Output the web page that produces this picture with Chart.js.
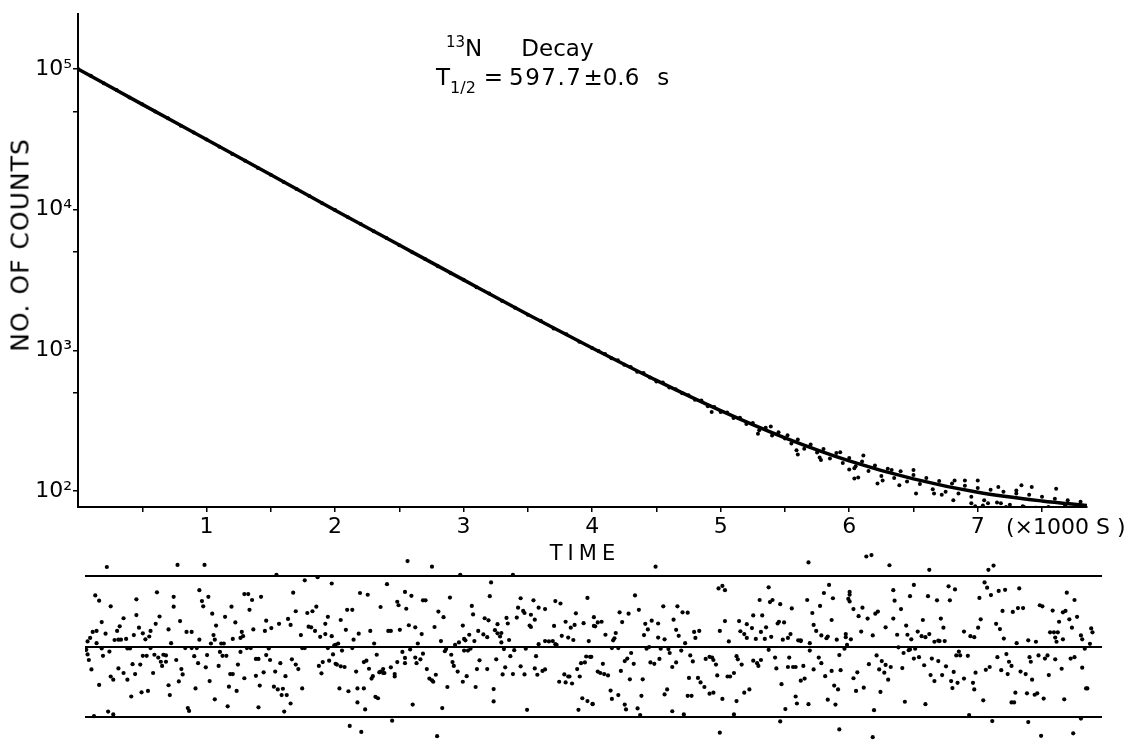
<!DOCTYPE html>
<html lang="en">
<head>
    <meta charset="utf-8"/>
    <title>13N Decay</title>
    <script src="https://cdn.jsdelivr.net/npm/chart.js"></script>
    <style>
        body {
            margin: 0;
            width: 1133px;
            height: 744px;
            position: relative;
            overflow: hidden;
            background: #fff;
            color: #000;
            font-family: 'DejaVu Sans', sans-serif;
        }
        canvas { position: absolute; left: 0; }
        #decay { top: 0; }
        #resid { top: 536px; }
        .txt {
            position: absolute;
            white-space: nowrap;
            line-height: 1;
        }
        #title1 { left: 446px; top: 37px; font-size: 23px; }
        #title1 .iso { font-size: 15px; position: relative; top: -9px; }
        #title2 { left: 436px; top: 66px; font-size: 23px; }
        #title2 .sub { font-size: 16px; position: relative; top: 8px; }
        #title2 .num { letter-spacing: 1.5px; }
        #ytitle {
            left: 20px; top: 245px; font-size: 25px; letter-spacing: 1px;
            transform: translate(-50%, -50%) rotate(-90deg);
        }
        #xunit { left: 1006px; top: 516px; font-size: 22px; }
        #xtitle { left: 585px; top: 553px; font-size: 21px; letter-spacing: 5px; transform: translate(-50%, -50%); }
    </style>
</head>
<body>
    <canvas id="decay" width="1133" height="545"></canvas>
    <canvas id="resid" width="1133" height="208"></canvas>

    <div class="txt" id="title1"><span class="iso">13</span>N<span style="margin-left:39px">Decay</span></div>
    <div class="txt" id="title2">T<span class="sub">1/2</span><span style="margin-left:8px">=</span><span class="num" style="margin-left:6px">597.7</span><span style="margin-left:1px">±0.6</span><span style="margin-left:18px">s</span></div>
    <div class="txt" id="ytitle">NO. OF COUNTS</div>
    <div class="txt" id="xunit">(×1000 S )</div>
    <div class="txt" id="xtitle">TIME</div>

    <script>
        // time in units of 1000 s
        const xTickValues = [0.5, 1, 1.5, 2, 2.5, 3, 3.5, 4, 4.5, 5, 5.5, 6, 6.5, 7, 7.5];
        const xTickLabels = ['', '1', '', '2', '', '3', '', '4', '', '5', '', '6', '', '7', ''];
        const yTickValues = [100, 500, 1000, 5000, 10000, 50000, 100000];
        const yTickLabels = ['10²', '', '10³', '', '10⁴', '', '10⁵'];
        const residLevels = [-2, 0, 2];

        // fitted decay curve
        const fitTimes = [0, 0.5, 1, 1.5, 2, 2.5, 3, 3.5, 4, 4.5, 5, 5.5, 6, 6.5, 7, 7.5, 7.85];
        const fitCounts = [100000, 56000, 31500, 17700, 9900, 5600, 3170, 1800, 1040, 612, 373, 239, 164, 122, 98, 85, 79];

        // measured counts, early part (lies on the fit line)
        const earlyCounts = [
            [0, 100000], [0.1, 89500], [0.2, 79000], [0.3, 70900], [0.4, 62700], [0.5, 56200],
            [0.6, 49800], [0.7, 44600], [0.8, 39500], [0.9, 35400], [1.0, 31500], [1.1, 28000],
            [1.2, 24900], [1.3, 22300], [1.4, 19800], [1.5, 17700], [1.6, 15700], [1.7, 14000],
            [1.8, 12500], [1.9, 11100], [2.0, 9950], [2.1, 8830], [2.2, 7900], [2.3, 7010],
            [2.4, 6280], [2.5, 5580], [2.6, 4980], [2.7, 4460], [2.8, 3960], [2.9, 3530],
            [3.0, 3170], [3.1, 2810], [3.2, 2530], [3.3, 2240], [3.4, 2010], [3.5, 1790],
            [3.6, 1620], [3.7, 1430], [3.8, 1300], [3.9, 1150], [4.0, 1040]
        ];

        // measured counts, tail (visible scatter)
        const tailCounts = [
            [4.05, 990], [4.10, 940], [4.15, 880], [4.20, 850], [4.25, 790], [4.30, 760], [4.35, 705],
            [4.40, 690], [4.45, 640], [4.50, 600], [4.55, 590], [4.60, 545], [4.65, 530], [4.70, 495],
            [4.75, 480], [4.80, 445], [4.85, 440], [4.90, 400], [4.93, 365], [4.95, 395], [5.00, 365],
            [5.05, 362], [5.10, 330], [5.15, 332], [5.20, 300], [5.25, 305], [5.29, 255], [5.30, 270],
            [5.35, 282], [5.39, 288], [5.40, 248], [5.45, 262], [5.50, 236], [5.52, 249], [5.55, 218],
            [5.59, 195], [5.60, 232], [5.60, 182], [5.65, 200], [5.70, 214], [5.75, 188], [5.77, 173],
            [5.78, 166], [5.80, 199], [5.85, 170], [5.90, 186], [5.93, 189], [5.95, 158], [6.00, 172],
            [6.00, 142], [6.04, 145], [6.04, 123], [6.05, 150], [6.07, 125], [6.10, 162], [6.11, 179],
            [6.15, 139], [6.20, 152], [6.22, 113], [6.25, 128], [6.26, 119], [6.30, 144], [6.33, 141],
            [6.35, 124], [6.39, 110], [6.40, 138], [6.45, 117], [6.50, 130], [6.50, 141], [6.52, 96],
            [6.55, 112], [6.60, 124], [6.65, 103], [6.66, 96], [6.70, 118], [6.72, 94], [6.75, 99],
            [6.80, 113], [6.81, 86], [6.82, 119], [6.85, 96], [6.90, 109], [6.90, 119], [6.95, 91],
            [6.95, 82], [6.98, 78], [7.00, 105], [7.00, 119], [7.04, 79], [7.05, 86], [7.08, 82],
            [7.10, 102], [7.15, 83], [7.16, 107], [7.18, 82], [7.20, 99], [7.22, 77], [7.25, 80],
            [7.30, 96], [7.30, 101], [7.34, 110], [7.35, 78], [7.36, 77], [7.40, 94], [7.42, 107],
            [7.45, 76], [7.50, 91], [7.55, 75], [7.55, 77], [7.60, 88], [7.61, 104], [7.65, 73],
            [7.68, 79], [7.70, 86], [7.75, 74], [7.80, 84], [7.85, 77]
        ];

        // residuals in standard deviations, read in four slices of the lower panel
        const residualsA = [
            [0.17,2.27],[0.72,2.33],[0.93,2.33],[1.49,2.05],
            [0.08,1.46],[0.11,1.31],[0.20,1.15],[0.40,1.35],[0.56,1.55],[0.69,1.42],[0.69,1.14],[0.89,1.61],
            [0.91,1.30],[0.96,1.42],[0.92,1.15],[1.24,1.50],[1.27,1.50],[1.30,1.33],[1.37,1.42],[1.28,1.05],
            [1.14,1.14],[0.99,0.94],[1.09,0.85],[1.62,1.54],[1.71,1.89],[1.81,1.98],[1.92,1.80],[1.64,1.01],
            [1.73,0.96],[1.77,1.01],[1.80,1.14],[1.58,0.79],[1.89,0.85],[1.87,0.65],[1.60,0.62],[1.51,0.65],
            [1.41,0.74],[1.45,0.53],[1.40,0.45],[1.31,0.49],[1.17,0.69],[1.22,0.42],[1.21,0.25],[1.23,0.30],
            [1.15,0.22],[1.02,0.60],[1.00,0.33],[1.01,0.20],[0.98,0.09],[1.06,0.09],[1.08,0.09],[0.89,0.20],
            [0.83,0.42],[0.79,0.42],[0.74,0.73],[0.65,0.49],[0.67,0.10],[0.58,0.86],[0.55,0.65],[0.51,0.45],
            [0.50,0.29],[0.47,0.21],[0.45,0.38],[0.42,0.54],[0.40,0.90],[0.30,0.81],[0.27,0.58],[0.25,0.45],
            [0.23,0.19],[0.26,0.20],[0.28,0.20],[0.32,0.22],[0.38,0.33],[0.13,0.70],[0.16,0.37],[0.06,0.42],
            [0.09,0.45],[0.04,0.25],[0.02,0.15],[0.09,0.10],[1.74,0.57],[1.76,0.55],[1.79,0.45],[1.68,0.33],
            [1.83,0.28],[1.87,0.36],[1.92,0.30],[1.94,0.04],
            [0.01,-0.09],[0.02,-0.22],[0.03,-0.38],[0.05,-0.65],[0.13,-0.05],[0.14,-0.26],[0.19,-0.14],
            [0.26,-0.62],[0.20,-0.85],[0.22,-0.94],[0.30,-0.75],[0.33,-0.05],[0.35,-0.05],[0.37,-0.50],
            [0.39,-0.78],[0.33,-0.94],[0.43,-0.51],[0.45,-0.26],[0.48,-0.26],[0.51,-0.04],[0.54,-0.23],
            [0.57,-0.31],[0.59,-0.43],[0.60,-0.55],[0.61,-0.23],[0.63,-0.25],[0.63,-0.43],[0.53,-0.75],
            [0.44,-1.30],[0.49,-1.26],[0.36,-1.42],[0.11,-1.09],[0.65,-1.10],[0.66,-1.38],[0.71,-0.38],
            [0.75,-0.64],[0.76,-0.79],[0.73,-0.99],[0.78,-0.04],[0.83,-0.04],[0.85,-0.27],[0.87,-0.04],
            [0.88,-0.47],[0.86,-1.19],[0.94,-0.59],[0.95,-0.24],[0.97,-0.98],[1.01,-1.50],[1.05,-0.15],
            [1.07,-0.26],[1.10,-0.26],[1.04,-0.55],[1.13,-0.78],[1.15,-0.78],[1.12,-1.14],[1.18,-1.26],
            [1.19,-0.51],[1.21,-0.15],[1.24,-0.90],[1.26,-0.04],[1.29,-0.04],[1.33,-0.35],[1.35,-0.35],
            [1.33,-0.83],[1.39,-0.73],[1.36,-1.11],[1.35,-1.73],[1.11,-1.70],[0.80,-1.75],[0.81,-1.83],
            [0.18,-1.85],[0.22,-1.93],[1.41,-0.24],[1.43,-0.05],[1.44,-0.38],[1.48,-0.71],[1.47,-1.14],
            [1.50,-1.22],[1.54,-1.20],[1.53,-1.38],[1.57,-1.38],[1.56,-0.84],[1.52,-0.47],[1.61,-0.36],
            [1.64,-0.51],[1.66,-0.64],[1.69,-0.04],[1.71,-0.04],[1.69,-1.19],[1.60,-1.62],[1.55,-1.85],
            [1.82,-0.55],[1.85,-0.44],[1.84,-0.76],[1.90,-0.40],[1.93,-0.22],[1.95,-0.49],[1.89,-0.04],
            [0.07,-1.98]
        ];
        const residualsB = [
            [2.51,2.44],[2.70,2.28],[2.92,2.05],[3.33,2.05],
            [2.35,1.78],[3.16,1.83],[2.14,1.53],[2.20,1.48],[2.49,1.56],[2.54,1.45],[2.43,1.28],[2.44,1.18],
            [2.50,1.08],[2.30,1.13],[2.04,1.05],[2.08,1.05],[1.99,0.76],[2.63,1.32],[2.65,1.32],[2.84,1.40],
            [2.75,1.00],[2.79,0.84],[2.72,0.56],[3.15,1.44],[3.01,1.16],[3.02,0.92],[3.11,0.81],[3.14,0.75],
            [3.21,0.64],[3.28,0.82],[3.29,0.66],[3.36,0.83],[3.37,1.11],[3.41,1.02],[3.42,0.96],[3.39,1.38],
            [3.49,1.32],[3.53,1.11],[3.58,1.07],[3.47,0.91],[3.50,0.77],[3.46,0.60],[3.47,0.56],[3.66,1.30],
            [3.70,1.23],[3.82,0.95],[3.74,0.71],[3.81,0.62],[3.78,0.54],[3.88,0.67],[3.91,1.39],[3.96,0.84],
            [3.96,0.59],[2.03,0.48],[2.13,0.37],[2.22,0.45],[2.36,0.45],[2.38,0.45],[2.45,0.48],[2.52,0.61],
            [2.57,0.55],[2.62,0.36],[2.09,0.20],[2.25,0.09],[1.97,0.09],[1.95,0.05],[2.59,0.09],[2.77,0.16],
            [2.88,0.05],[2.91,0.12],[2.94,0.60],[2.95,0.22],[2.99,0.34],[2.96,0.18],[3.03,0.16],[3.06,0.45],
            [3.10,0.35],[3.13,0.27],[3.19,0.47],[3.21,0.38],[3.24,0.39],[3.23,0.29],[3.24,0.12],[3.30,0.19],
            [3.65,0.59],[3.71,0.31],[3.76,0.26],[3.80,0.19],[3.92,0.16],[3.53,0.07],[3.58,0.16],[3.61,0.15],
            [3.64,0.16],[3.66,0.07],[3.67,0.05],
            [2.00,-0.11],[2.08,-0.04],[2.27,-0.23],[1.96,-0.51],[1.99,-0.56],[2.02,-0.58],[2.11,-0.71],
            [2.17,-0.44],[2.19,-0.40],[2.21,-0.63],[2.24,-0.84],[2.23,-0.91],[2.29,-0.73],[2.30,-0.71],
            [2.32,-0.75],[2.33,-0.75],[2.32,-0.64],[2.38,-0.59],[2.41,-0.78],[2.41,-0.85],[2.43,-0.44],
            [2.47,-0.15],[2.49,-0.32],[2.49,-0.47],[2.53,-0.08],[2.57,-0.31],[2.58,-0.47],[2.61,-0.36],
            [2.63,-0.20],[2.66,-0.64],[2.68,-0.91],[2.70,-0.96],[2.73,-0.80],[2.71,-1.00],[2.80,-0.13],
            [2.81,-0.07],[2.85,-0.23],[2.86,-0.44],[2.87,-0.55],[2.90,-0.71],[2.94,-1.00],[2.97,-0.84],
            [2.95,-0.11],[2.98,-0.11],[3.00,-0.06],[3.07,-0.39],[3.05,-0.64],[3.13,-0.64],[3.20,-0.36],
            [3.26,-0.07],[3.27,-0.59],[3.31,-0.27],[3.34,-0.10],[3.39,-0.56],[3.33,-0.78],[3.25,-0.79],
            [3.42,-0.79],[3.43,-0.06],[3.50,-0.62],[3.51,-0.27],[3.52,-0.80],[3.56,-0.69],[3.58,-0.65],
            [3.73,-0.79],[3.76,-0.85],[3.79,-1.05],[3.69,-1.00],[3.74,-1.02],[3.77,-0.85],[3.85,-0.85],
            [3.83,-0.64],[3.86,-0.47],[3.89,-0.45],[3.93,-0.29],[3.90,-0.28],[1.98,-1.19],[2.05,-1.27],
            [2.12,-1.19],[2.17,-1.19],[2.12,-1.59],[2.18,-1.79],[2.26,-1.43],[2.28,-1.47],[2.55,-1.65],
            [2.78,-1.75],[2.82,-1.15],[3.04,-1.15],[3.18,-1.21],[3.18,-1.56],[3.44,-1.80],[3.84,-1.80],
            [3.87,-1.47],[3.91,-1.55],[3.95,-1.63],[2.06,-2.26],[2.15,-2.43],[2.39,-2.11],[2.74,-2.55]
        ];
        const residualsC = [
            [4.44,2.28],[5.63,2.40],[4.93,1.66],[4.96,1.73],[4.98,1.61],[5.32,1.69],[5.79,1.76],[4.28,1.46],
            [4.50,1.15],[4.61,1.15],[4.65,0.98],[4.69,0.97],[4.31,1.05],[4.16,0.98],[4.23,0.94],[4.02,0.71],
            [3.99,0.69],[3.97,0.58],[4.18,0.70],[4.05,0.34],[4.13,0.39],[4.12,0.24],[4.11,0.18],[4.36,0.65],
            [4.41,0.74],[4.46,0.66],[4.38,0.49],[4.35,0.33],[4.46,0.26],[4.51,0.21],[4.58,0.77],[4.60,0.48],
            [4.62,0.31],[4.67,0.10],[4.74,0.42],[4.75,0.25],[4.78,0.45],[4.94,0.45],[4.98,0.73],[5.01,0.15],
            [5.09,0.73],[5.10,0.44],[5.13,0.36],[5.15,0.25],[5.15,0.64],[5.19,0.53],[5.20,0.89],[5.22,0.22],
            [5.25,1.33],[5.27,0.89],[5.26,0.42],[5.29,0.22],[5.30,0.55],[5.34,0.28],[5.33,1.27],[5.35,1.33],
            [5.41,1.21],[5.39,0.66],[5.40,0.71],[5.44,0.69],[5.43,0.20],[5.47,0.25],[5.49,0.36],[5.50,1.09],
            [5.55,0.18],[5.57,0.18],[5.62,1.33],[5.66,0.96],[5.67,0.62],[5.69,0.45],[5.72,1.16],[5.73,0.32],
            [5.75,1.53],[5.77,0.24],[5.78,0.29],[5.81,0.76],[5.82,1.38],[5.85,0.20],[5.92,0.27],[5.95,1.48],
            [5.95,1.29],[5.64,0.10],[5.57,0.16],
            [3.94,-0.29],[4.03,-0.49],[3.99,-0.71],[4.01,-0.75],[4.04,-0.78],[4.07,-0.82],[4.10,-0.04],
            [4.15,-0.04],[4.17,-0.69],[4.20,-0.41],[4.22,-0.34],[4.25,-0.18],[4.27,-0.49],[4.24,-0.93],
            [4.34,-0.93],[4.09,-1.25],[4.15,-1.38],[4.10,-1.49],[4.20,-1.65],[4.21,-1.79],[4.30,-1.76],
            [4.32,-1.95],[4.33,-1.40],[4.37,-0.06],[4.39,-0.01],[4.40,-0.45],[4.43,-0.49],[4.47,-0.35],
            [4.48,-0.06],[4.54,-0.07],[4.55,-0.18],[4.57,-0.58],[4.60,-0.45],[4.64,-0.11],[4.71,-0.25],
            [4.73,-0.42],[4.70,-0.89],[4.77,-0.89],[4.79,-1.02],[4.82,-1.15],[4.86,-1.34],[4.89,-1.31],
            [4.83,-0.35],[4.86,-0.29],[4.88,-0.31],[4.89,-0.38],[4.91,-0.51],[4.92,-0.82],[5.00,-0.85],
            [5.02,-0.85],[5.05,-0.75],[5.07,-0.27],[5.08,-0.36],[5.11,-0.51],[5.20,-0.40],[5.23,-0.47],
            [5.24,-0.55],[5.26,-0.38],[5.32,-0.09],[5.37,-0.31],[5.38,-0.62],[5.42,-1.07],[5.48,-0.31],
            [5.47,-0.58],[5.51,-0.58],[5.53,-0.58],[5.59,-0.55],[5.57,-0.97],[5.60,-0.91],[5.64,-0.11],
            [5.67,-0.65],[5.71,-0.31],[5.73,-0.47],[5.76,-0.84],[5.81,-0.69],[5.83,-1.11],[5.86,-1.22],
            [5.88,-0.67],[5.87,-0.24],[5.91,-0.06],[4.69,-1.40],[4.72,-1.40],[4.51,-1.36],[4.53,-1.22],
            [4.57,-1.84],[4.66,-1.93],[4.96,-1.49],[5.07,-1.55],[5.13,-1.31],[5.17,-1.22],[5.05,-1.93],
            [5.45,-1.78],[5.53,-1.42],[5.54,-1.62],[5.63,-1.64],[5.78,-1.51],[5.84,-1.65],[3.95,-1.64],
            [5.41,-2.13],[4.94,-2.45],[5.87,-2.36]
        ];
        const residualsD = [
            [6.08,2.57],[6.12,2.61],[6.26,2.32],[6.57,2.19],[7.03,2.19],[7.07,2.31],
            [5.95,1.56],[5.94,1.36],[5.98,1.07],[6.05,1.11],[6.02,0.87],[6.09,0.80],[6.15,0.94],[6.17,1.00],
            [6.04,0.43],[6.13,0.32],[6.23,0.55],[6.29,1.61],[6.30,1.31],[6.35,1.07],[6.29,0.80],[6.39,0.60],
            [6.32,0.34],[6.40,0.34],[6.43,0.21],[6.45,1.76],[6.42,1.44],[6.52,0.76],[6.56,1.44],[6.48,0.43],
            [6.51,0.30],[6.54,0.27],[6.57,0.36],[6.61,0.14],[6.64,0.17],[6.65,0.16],[6.69,0.16],[6.68,0.54],
            [6.66,0.80],[6.63,1.32],[6.72,1.72],[6.77,1.63],[6.73,1.32],[6.84,0.43],[6.89,0.30],[6.92,0.27],
            [6.95,0.54],[6.96,1.39],[6.97,0.78],[7.00,1.83],[7.02,1.68],[7.05,1.47],[7.11,1.59],[7.16,1.62],
            [7.09,0.65],[7.12,0.50],[7.14,1.02],[7.15,0.23],[7.22,0.99],[7.26,1.10],[7.30,1.10],[7.27,1.66],
            [7.25,0.10],[7.34,0.18],[7.40,0.14],[7.43,1.18],[7.45,1.15],[7.53,1.03],[7.58,0.71],[7.61,0.98],
            [7.63,1.02],[7.66,0.78],[7.68,0.54],[7.70,1.33],[7.72,0.85],[7.64,1.54],[7.51,0.41],[7.54,0.41],
            [7.57,0.41],[7.55,0.26],[7.56,0.14],[7.61,0.21],[7.75,0.32],[7.76,0.21],[7.83,0.52],[7.84,0.41],
            [7.82,0.08],[5.92,0.36],[5.96,0.21],[5.93,0.05],
            [6.10,-0.50],[6.16,-0.25],[6.20,-0.41],[6.23,-0.52],[6.27,-0.58],[6.18,-0.65],[6.22,-0.74],
            [6.25,-0.94],[6.01,-0.73],[5.98,-0.90],[6.00,-1.26],[6.06,-1.17],[6.36,-0.61],[6.33,-0.02],
            [6.37,-0.18],[6.41,-0.10],[6.42,-0.08],[6.46,-0.06],[6.45,-0.34],[6.49,-0.30],[6.53,-0.53],
            [6.59,-0.34],[6.64,-0.41],[6.58,-0.81],[6.61,-0.98],[6.67,-0.81],[6.70,-0.56],[6.74,-0.98],
            [6.76,-0.72],[6.75,-1.18],[6.79,-1.03],[6.84,-0.91],[6.80,-0.14],[6.81,-0.25],[6.78,-0.25],
            [6.87,-0.26],[6.91,-1.03],[6.92,-1.22],[6.93,-0.74],[6.99,-1.53],[7.01,-0.66],[7.04,-0.58],
            [7.10,-0.30],[7.13,-0.67],[7.17,-0.21],[7.19,-0.43],[7.21,-0.55],[7.18,-0.78],[7.24,-1.31],
            [7.21,-1.59],[7.23,-1.59],[7.28,-0.71],[7.32,-0.78],[7.33,-1.33],[7.37,-0.94],[7.35,-0.30],
            [7.36,-0.43],[7.42,-0.25],[7.39,-1.37],[7.41,-1.33],[7.46,-1.48],[7.47,-0.34],[7.49,-0.25],
            [7.50,-0.81],[7.55,-0.36],[7.60,-0.63],[7.62,-1.50],[7.67,-0.34],[7.70,-0.30],[7.76,-0.60],
            [7.79,-1.19],[7.80,-1.19],[7.78,-0.06],[6.38,-1.57],[6.54,-1.64],[6.19,-1.29],[6.14,-1.81],
            [6.88,-1.95],[7.06,-2.12],[7.34,-2.15],[7.75,-2.05],[6.13,-2.58],[7.44,-2.54],[7.69,-2.47]
        ];

        const FONT = 'DejaVu Sans';
        const toPoints = arr => arr.map(([x, y]) => ({x, y}));
        const tickGrid = { drawOnChartArea: false, drawTicks: true, tickLength: 5, color: '#000', lineWidth: 1.5 };
        const axisBorder = { display: true, color: '#000', width: 2 };

        // upper panel: counts vs time on a log scale
        new Chart(document.getElementById('decay'), {
            type: 'scatter',
            data: {
                datasets: [
                    {
                        type: 'line',
                        label: 'fit',
                        data: fitTimes.map((t, i) => ({x: t, y: fitCounts[i]})),
                        borderColor: '#000',
                        borderWidth: 3.5,
                        pointRadius: 0,
                        cubicInterpolationMode: 'monotone'
                    },
                    {
                        label: 'counts',
                        data: toPoints(earlyCounts.concat(tailCounts)),
                        backgroundColor: '#000',
                        borderWidth: 0,
                        pointRadius: 2
                    }
                ]
            },
            options: {
                responsive: false,
                animation: false,
                layout: { padding: { top: 12, right: 46, left: 0, bottom: 0 } },
                plugins: { legend: { display: false }, tooltip: { enabled: false } },
                scales: {
                    x: {
                        type: 'linear',
                        min: 0,
                        max: 7.85,
                        afterBuildTicks: s => { s.ticks = xTickValues.map(v => ({value: v})); },
                        afterFit: s => { s.height = 38; },
                        ticks: {
                            callback: (v, i) => xTickLabels[i],
                            autoSkip: false,
                            maxRotation: 0,
                            padding: 2,
                            color: '#000',
                            font: { family: FONT, size: 22 }
                        },
                        grid: tickGrid,
                        border: axisBorder
                    },
                    y: {
                        type: 'logarithmic',
                        min: 77,
                        max: 245000,
                        afterBuildTicks: s => { s.ticks = yTickValues.map(v => ({value: v})); },
                        afterFit: s => { s.width = 78; },
                        ticks: {
                            callback: (v, i) => yTickLabels[i],
                            autoSkip: false,
                            padding: 1,
                            color: '#000',
                            font: { family: FONT, size: 22 }
                        },
                        grid: tickGrid,
                        border: axisBorder
                    }
                }
            }
        });

        // lower panel: residuals with 0 and +-2 sigma lines
        new Chart(document.getElementById('resid'), {
            type: 'scatter',
            data: {
                datasets: [{
                    label: 'residuals',
                    data: toPoints(residualsA.concat(residualsB, residualsC, residualsD)),
                    backgroundColor: '#000',
                    borderWidth: 0,
                    pointRadius: 2.1
                }]
            },
            options: {
                responsive: false,
                animation: false,
                layout: { padding: { top: 0, right: 31, left: 85, bottom: 0 } },
                plugins: { legend: { display: false }, tooltip: { enabled: false } },
                scales: {
                    x: { type: 'linear', min: 0, max: 7.914, display: false },
                    y: {
                        type: 'linear',
                        min: -2.66,
                        max: 3.04,
                        afterBuildTicks: s => { s.ticks = residLevels.map(v => ({value: v})); },
                        afterFit: s => { s.width = 0; },
                        ticks: { display: false },
                        grid: { color: '#000', lineWidth: 2, drawTicks: false },
                        border: { display: false }
                    }
                }
            }
        });
    </script>
</body>
</html>
